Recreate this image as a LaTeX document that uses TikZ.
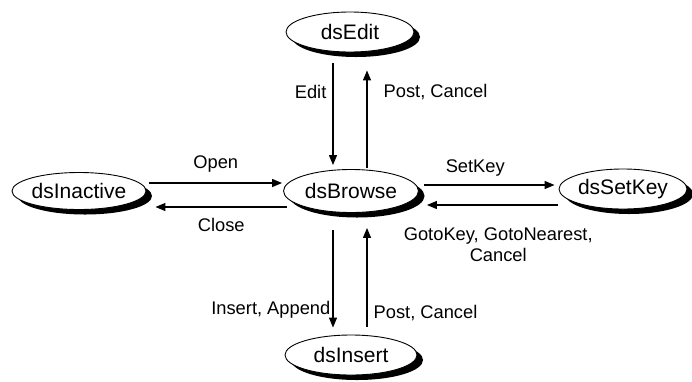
\documentclass[tikz,border=0pt]{standalone}
\usepackage{fontspec}
\setmainfont{Liberation Sans}
\usetikzlibrary{shapes.geometric}
\usetikzlibrary{shadows}
\usetikzlibrary{arrows.meta}

\tikzset{
  dsstate/.style={ellipse, draw=black, line width=0.9pt, fill=white,
    inner sep=0pt, font=\fontsize{21}{25}\selectfont,
    drop shadow={shadow xshift=6pt, shadow yshift=-5pt, fill=black, opacity=1}},
  trans/.style={line width=1.3pt, -{Triangle[length=10pt,width=8pt]}},
  translabel/.style={font=\fontsize{18.3}{21.5}\selectfont, inner sep=2pt}
}

\begin{document}
\begin{tikzpicture}[x=1pt, y=-1pt, line join=round]
  \useasboundingbox (0,0) rectangle (692,381);
  % states
  \node[dsstate, minimum width=128pt, minimum height=40pt] (edit) at (350,32) {dsEdit};
  \node[dsstate, minimum width=134pt, minimum height=37pt] (inactive) at (79,191) {dsInactive};
  \node[dsstate, minimum width=135pt, minimum height=43pt] (browse) at (351,191) {dsBrowse};
  \node[dsstate, minimum width=128pt, minimum height=40pt] (setkey) at (623,189) {dsSetKey};
  \node[dsstate, minimum width=132pt, minimum height=40pt] (insert) at (351,355) {dsInsert};

  % transitions to and from dsEdit
  \draw[trans] ([xshift=-17pt,yshift=-11pt]edit.south) -- ([xshift=-18pt,yshift=4pt]browse.north)
    node[translabel, pos=0.28, left, xshift=-4pt] {Edit};
  \draw[trans] ([xshift=16pt,yshift=1pt]browse.north) -- ([xshift=17pt,yshift=-18pt]edit.south)
    node[translabel, pos=0.78, right, xshift=14pt] {Post, Cancel};

  % dsInactive
  \draw[trans] ([xshift=3pt,yshift=8pt]inactive.east) -- ([xshift=-1pt,yshift=8pt]browse.west)
    node[translabel, midway, above=8pt] {Open};
  \draw[trans] ([xshift=4pt,yshift=-16pt]browse.west) -- ([xshift=9pt,yshift=-16pt]inactive.east)
    node[translabel, midway, below=9pt] {Close};

  % dsSetKey
  \draw[trans] ([xshift=5pt,yshift=6pt]browse.east) -- ([xshift=-4pt,yshift=4pt]setkey.west)
    node[translabel, midway, above=6pt, xshift=-14pt] {SetKey};
  \draw[trans] ([xshift=-1pt,yshift=-16pt]setkey.west) -- ([xshift=8pt,yshift=-14pt]browse.east)
    node[translabel, midway, below=20pt, align=center, xshift=6pt] {GotoKey, GotoNearest,\\Cancel};

  % dsInsert
  \draw[trans] ([xshift=-18pt,yshift=-17pt]browse.south) -- ([xshift=-18pt,yshift=7pt]insert.north)
    node[translabel, pos=0.82, left] {Insert, Append};
  \draw[trans] ([xshift=16pt,yshift=8pt]insert.north) -- ([xshift=16pt,yshift=-15pt]browse.south)
    node[translabel, pos=0.14, right, xshift=4pt] {Post, Cancel};
\end{tikzpicture}
\end{document}
